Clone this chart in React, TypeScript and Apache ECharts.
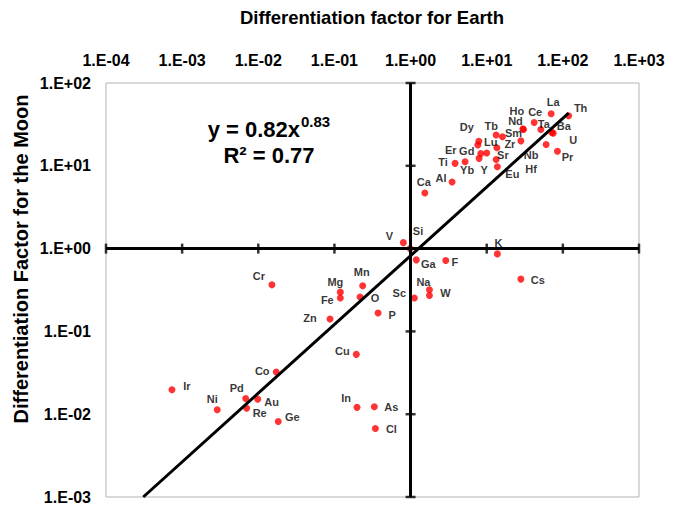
import React, { useEffect, useRef } from "react";
import * as echarts from "echarts";

// Element symbols and their differentiation factors (Earth on x, Moon on y)
const elements = [
  "La", "Th", "Ce", "Ho", "Nd", "Ta", "Ba", "U", "Tb", "Sm", "Zr", "Dy", "Lu", "Nb", "Sr", "Pr",
  "Gd", "Er", "Y", "Hf", "Yb", "Ti", "Eu", "Al", "Ca", "V", "Si", "K", "Ga", "F", "Cs", "Cr",
  "Mn", "Na", "Mg", "W", "O", "Fe", "Sc", "P", "Zn", "Cu", "Co", "Ir", "Pd", "Au", "In", "As",
  "Re", "Ni", "Ge", "Cl",
];
const earthFactor = [
  70.2, 119, 42.0, 29.9, 30.4, 51.4, 71.7, 74.6, 13.3, 16.1, 28.1, 7.88, 7.64, 60.3, 13.6, 84.9,
  10.0, 8.36, 7.94, 13.3, 5.2, 3.84, 13.8, 3.51, 1.54, 0.804, 0.985, 13.8, 1.19, 2.9, 28.1, 0.0151,
  0.235, 1.77, 0.1195, 1.77, 0.217, 0.1195, 1.12, 0.374, 0.0875, 0.194, 0.0172, 0.000735, 0.00683, 0.00982, 0.198, 0.334,
  0.00704, 0.00289, 0.0183, 0.345,
];
const moonFactor = [
  42.6, 40.3, 33.3, 27.9, 27.5, 27.5, 25.3, 24.8, 23.6, 22.4, 20.0, 19.8, 17.8, 18.1, 16.5, 15.0,
  14.3, 14.1, 12.3, 11.9, 11.2, 10.7, 9.73, 6.36, 4.69, 1.18, 1.0, 0.863, 0.731, 0.717, 0.428, 0.365,
  0.355, 0.318, 0.298, 0.272, 0.26, 0.253, 0.253, 0.167, 0.141, 0.0528, 0.0324, 0.0197, 0.0155, 0.0152, 0.0121, 0.0123,
  0.0118, 0.0113, 0.00817, 0.00673,
];
// Where each element's label sits relative to its dot, in pixels
const labelOffsets: [number, number][] = [
  [2, -12], [12, -8], [1, -11], [-6, -18], [-8, -8], [3, -5], [12, -6], [20, 7], [-5, -9], [11, -4], [-11, 3], [-12, -14], [13, -3], [-15, 11], [6, 7], [10, 6],
  [-20, -2], [-30, -3], [5, 12], [35, 9], [2, 8], [-12, -1], [15, 7], [-11, -4], [-1, -11], [-14, -7], [8, -18], [1, -11], [12, 4], [9, 1], [17, 1], [-13, -9],
  [-1, -14], [-6, -8], [-5, -10], [16, -2], [15, 1], [-13, 2], [-15, -5], [14, 2], [-20, -1], [-14, -3], [-14, -1], [15, -4], [-9, -10], [14, 3], [-11, -9], [17, 0],
  [13, 5], [-5, -11], [14, -4], [16, 1],
];

// Axis ranges and decade ticks
const xTicks = [1e-4, 1e-3, 1e-2, 1e-1, 1, 10, 100, 1000];
const yTicks = [1e-3, 1e-2, 1e-1, 1, 10, 100];

// Power-law fit y = a * x^b
const fitA = 0.82;
const fitB = 0.83;
const fitR2 = 0.77;

const FONT = "'Liberation Sans', Arial, sans-serif";

function sciLabel(v: number): string {
  const e = Math.round(Math.log10(v));
  const s = e < 0 ? "-" : "+";
  const a = Math.abs(e);
  return "1.E" + s + (a < 10 ? "0" + a : String(a));
}

export default function App() {
  const ref = useRef<HTMLDivElement>(null);

  useEffect(() => {
    if (!ref.current) return;
    const chart = echarts.init(ref.current, undefined, { renderer: "svg" });

    const xMin = xTicks[0];
    const xMax = xTicks[xTicks.length - 1];
    const yMin = yTicks[0];
    const yMax = yTicks[yTicks.length - 1];

    // fitted line from the bottom of the plot to the largest Earth factor
    const fitStartX = Math.pow(yMin / fitA, 1 / fitB);
    const fitEndX = Math.max(...earthFactor);
    const fitLine = [
      [fitStartX, fitA * Math.pow(fitStartX, fitB)],
      [fitEndX, fitA * Math.pow(fitEndX, fitB)],
    ];

    const points = elements.map((name, i) => ({
      name,
      value: [earthFactor[i], moonFactor[i]],
      label: { offset: labelOffsets[i] },
    }));

    const crossTicks = [
      ...xTicks.map((x) => ({ value: [x, 1], symbolSize: [2.5, 10] })),
      ...yTicks.map((y) => ({ value: [1, y], symbolSize: [10, 2.5] })),
    ];

    chart.setOption({
      animation: false,
      backgroundColor: "#ffffff",
      grid: {
        left: 106,
        top: 83,
        right: 42,
        bottom: 7,
        show: true,
        borderColor: "#b3b3b3",
        borderWidth: 1,
        backgroundColor: "transparent",
      },
      xAxis: {
        type: "log",
        logBase: 10,
        min: xMin,
        max: xMax,
        position: "top",
        axisLine: { show: false },
        axisTick: { show: false },
        splitLine: { show: false },
        axisLabel: {
          formatter: sciLabel,
          color: "#000",
          fontFamily: FONT,
          fontWeight: "bold",
          fontSize: 16,
          margin: 15,
        },
      },
      yAxis: {
        type: "log",
        logBase: 10,
        min: yMin,
        max: yMax,
        axisLine: { show: false },
        axisTick: { show: false },
        splitLine: { show: false },
        axisLabel: {
          formatter: sciLabel,
          color: "#000",
          fontFamily: FONT,
          fontWeight: "bold",
          fontSize: 16,
          margin: 15,
        },
      },
      series: [
        {
          name: "axes",
          type: "scatter",
          silent: true,
          z: 1,
          symbol: "rect",
          itemStyle: { color: "#000" },
          data: crossTicks,
          markLine: {
            silent: true,
            symbol: ["none", "none"],
            label: { show: false },
            lineStyle: { color: "#000", width: 3, type: "solid" },
            data: [{ xAxis: 1 }, { yAxis: 1 }],
          },
        },
        {
          name: "elements",
          type: "scatter",
          z: 2,
          symbol: "circle",
          symbolSize: 7,
          itemStyle: { color: "#ff0000" },
          label: {
            show: true,
            position: "inside",
            formatter: "{b}",
            color: "#000",
            fontFamily: FONT,
            fontWeight: "bold",
            fontSize: 11,
            lineHeight: 11,
            align: "center",
            verticalAlign: "middle",
          },
          data: points,
        },
        {
          name: "fit",
          type: "line",
          z: 3,
          symbol: "none",
          lineStyle: { color: "#000", width: 3 },
          data: fitLine,
        },
      ],
      graphic: [
        {
          type: "text",
          x: 372,
          y: 17,
          style: {
            text: "Differentiation factor for Earth",
            font: `bold 18.5px ${FONT}`,
            fill: "#000",
            align: "center",
            verticalAlign: "middle",
          },
        },
        {
          type: "text",
          x: 21,
          y: 259,
          rotation: Math.PI / 2,
          style: {
            text: "Differentiation Factor for the Moon",
            font: `bold 20px ${FONT}`,
            fill: "#000",
            align: "center",
            verticalAlign: "middle",
          },
        },
        {
          type: "text",
          x: 300,
          y: 129,
          style: {
            text: `y = ${fitA}x`,
            font: `bold 22px ${FONT}`,
            fill: "#000",
            align: "right",
            verticalAlign: "middle",
          },
        },
        {
          type: "text",
          x: 301,
          y: 121,
          style: {
            text: String(fitB),
            font: `bold 15px ${FONT}`,
            fill: "#000",
            align: "left",
            verticalAlign: "middle",
          },
        },
        {
          type: "text",
          x: 269,
          y: 155,
          style: {
            text: `R² = ${fitR2}`,
            font: `bold 22px ${FONT}`,
            fill: "#000",
            align: "center",
            verticalAlign: "middle",
          },
        },
      ],
    });

    return () => chart.dispose();
  }, []);

  return (
    <div
      ref={ref}
      style={{ position: "fixed", left: 0, top: 0, width: 681, height: 505, background: "#fff" }}
    />
  );
}
